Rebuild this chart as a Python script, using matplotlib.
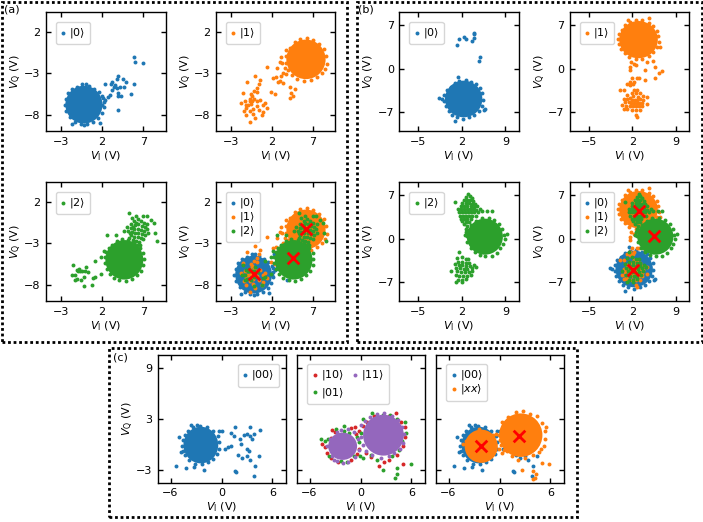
import matplotlib
matplotlib.use("Agg")
import matplotlib.pyplot as plt
from matplotlib.patches import Ellipse, Rectangle

BLUE, ORANGE, GREEN, RED, PURPLE = "#1f77b4", "#ff7f0e", "#2ca02c", "#d62728", "#9467bd"

# Dense cloud cores: (centre I, centre Q, radius I, radius Q)
a0_core = [(-0.2, -6.8, 2.25, 2.3)]
a1_core = [(6.2, -1.3, 2.4, 2.4)]
a2_core = [(4.7, -5.0, 2.3, 2.4)]
b0_core = [(2.3, -4.9, 3.0, 2.95)]
b1_core = [(3.0, 4.65, 3.1, 3.0)]
b2_core = [(5.7, 0.3, 2.9, 2.9)]
c00_core = [(-2.43, -0.06, 2.05, 2.15)]
c11_core = [(-2.1, -0.2, 1.7, 1.6), (2.7, 1.1, 2.4, 2.4)]
cxx_core = [(-2.15, -0.2, 1.95, 1.95), (2.5, 1.1, 2.55, 2.55)]

# Individually readable points
a0_pts = [(5.9,-1.0),(6.0,-1.6),(7.0,-1.7),(3.9,-3.3),(3.8,-3.7),(3.2,-4.0),(4.5,-3.7),(4.9,-4.1),(2.3,-4.3),(3.1,-4.3),
          (3.6,-4.4),(5.9,-4.3),(3.4,-4.7),(3.8,-4.8),(4.2,-4.7),(4.7,-4.7),(3.2,-5.0),(3.9,-5.4),(4.3,-5.7),(5.5,-5.5),
          (3.0,-5.6),(3.9,-5.8),(2.7,-5.9),(2.4,-6.2),(3.9,-7.5),(2.2,-6.5),(2.0,-6.8),(-1.7,-9.2),(-0.2,-9.3),(1.7,-9.0),
          (2.15,-6.0),(2.2,-7.1),(1.95,-7.8),(1.5,-8.4),(0.9,-8.9),(0.2,-9.2),(-0.6,-9.15),(-1.3,-8.95),(-1.9,-8.35),(-2.35,-7.6),
          (-2.55,-6.8),(-2.4,-6.1),(-2.1,-5.4),(-1.6,-4.95),(-1.0,-4.65),(-0.4,-4.3),(0.0,-4.35),(0.4,-4.55),(1.05,-4.85),(1.6,-5.3),(2.0,-5.7)]
a1_pts = [(3.7,-0.2),(3.2,-1.0),(3.0,-1.6),(3.3,-1.7),(1.4,-2.2),(2.7,-2.4),(3.6,-2.3),(3.4,-2.9),(3.7,-3.1),(3.2,-3.3),
          (2.2,-3.6),(2.5,-3.5),(3.0,-3.9),(3.4,-4.2),(2.8,-4.1),(0.0,-3.3),(0.6,-3.8),(-1.0,-4.0),(0.4,-4.3),(0.2,-4.8),
          (-0.2,-5.2),(0.2,-5.3),(-1.5,-5.4),(-0.4,-5.8),(-0.7,-6.1),(-0.2,-6.1),(-1.3,-6.3),(-0.7,-6.4),(-1.7,-6.6),(-1.1,-6.8),
          (-0.5,-6.7),(0.2,-6.4),(0.6,-6.2),(1.2,-6.6),(1.4,-7.2),(0.2,-7.0),(-1.1,-7.2),(-0.7,-7.6),(0.8,-8.0),(0.0,-8.4),
          (-0.6,-8.9),(-1.1,-8.0),(1.9,-5.3),(2.4,-5.5),(4.2,-4.7),(4.8,-4.9),(4.4,-5.4),(4.2,-6.0),(4.6,-5.8),(-0.4,-6.3),
          (-0.9,-6.9),(-0.3,-7.3),(0.5,-7.4),(1.0,-6.9),(-0.5,-5.5),(0.9,-7.7),(-1.4,-7.6),(-0.3,-7.9),
          (8.75,-1.9),(8.7,-0.9),(8.35,-0.1),(7.8,0.6),(7.1,1.05),(6.3,1.3),(5.5,1.2),(4.8,0.75),(4.25,0.1),(3.8,-0.9),
          (3.75,-1.8),(4.05,-2.6),(4.5,-3.2),(5.1,-3.65),(5.9,-3.95),(6.8,-3.85),(7.5,-3.5),(8.1,-2.95),(8.5,-2.5)]
a2_pts = [(5.3,0.7),(6.1,0.3),(7.0,0.3),(7.4,0.3),(7.9,-0.2),(8.3,-0.5),(8.4,-1.8),(8.7,-2.7),(7.5,-0.7),(5.6,0.05),
          (5.9,-0.3),(6.3,-0.1),(6.7,-0.3),(7.1,-0.5),(5.5,-0.7),(6.0,-0.8),(6.4,-0.7),(6.8,-0.9),(7.2,-1.0),(5.0,-1.0),
          (5.5,-1.1),(5.9,-1.2),(6.3,-1.2),(6.7,-1.4),(7.1,-1.5),(7.4,-1.3),(7.6,-1.7),(4.7,-1.5),(5.2,-1.5),(5.6,-1.6),
          (6.0,-1.7),(6.4,-1.7),(6.8,-1.9),(7.2,-2.0),(5.5,-2.0),(5.9,-2.2),(6.3,-2.2),(6.7,-2.4),(7.0,-2.5),(5.3,-2.4),
          (5.7,-2.6),(6.1,-2.7),(6.5,-2.8),(5.5,-2.9),(5.9,-3.0),(6.2,-3.2),(6.6,-3.2),(5.7,-1.0),(6.1,-0.5),(5.4,-1.8),
          (-1.5,-5.6),(-1.1,-6.2),(-0.9,-6.3),(-1.3,-6.8),(-1.6,-6.9),(-0.7,-6.4),(0.0,-5.9),(-0.1,-6.3),(0.3,-6.5),(-0.2,-7.1),
          (-0.5,-7.4),(-1.0,-7.3),(-1.3,-7.5),(-0.2,-8.2),(0.8,-8.1),(0.9,-7.2),(1.2,-7.1),(1.9,-6.7),(1.2,-5.1),(1.9,-4.6),
          (2.6,-2.0),(3.7,-2.0),(2.2,-3.9),(-0.8,-6.1),(-0.4,-6.4),
          (2.35,-4.7),(2.3,-5.4),(2.55,-6.1),(2.9,-6.7),(3.4,-7.2),(4.1,-7.5),(4.9,-7.55),(5.6,-7.3),(6.2,-6.9),(6.7,-6.3),
          (7.0,-5.6),(7.1,-4.9),(7.0,-4.2),(6.6,-3.6),(3.2,-3.2),(3.8,-2.7),(4.4,-2.5),(2.8,-3.6),(2.5,-4.1),(5.2,-2.6)]
b0_pts = [(4.0,5.8),(3.9,5.5),(3.6,4.4),(4.0,4.9),(2.3,5.0),(2.7,4.8),(1.6,4.7),(1.3,3.8),(4.9,1.8),(4.8,1.2),
          (-1.6,-4.8),(-1.2,-4.9),(0.9,-8.5),(5.7,-6.5),(5.5,-6.6),(1.4,-1.4),
          (-0.8,-4.3),(-0.85,-5.2),(-0.6,-6.1),(-0.1,-6.8),(0.5,-7.4),(1.3,-7.85),(2.2,-8.05),(3.2,-7.85),(4.0,-7.5),(4.7,-6.8),
          (5.2,-6.0),(5.4,-5.0),(5.3,-4.0),(4.9,-3.2),(4.3,-2.5),(3.5,-2.1),(2.6,-1.85),(1.6,-2.0),(0.9,-2.3),(0.2,-2.9),(-0.4,-3.5)]
b1_pts = [(4.6,8.2),(1.3,7.8),(6.4,3.5),(6.2,5.2),(6.3,4.3),(6.0,3.4),(5.4,2.7),(4.6,2.0),(3.6,1.55),(2.6,1.55),
          (1.5,1.9),(0.8,2.5),(0.2,3.2),(-0.2,3.9),(-0.3,4.8),(-0.1,5.6),(0.3,6.2),(0.8,7.0),(1.7,7.5),(2.6,7.8),
          (3.6,7.8),(4.6,7.4),(5.4,6.8),(5.9,6.0),
          (1.8,1.1),(2.2,0.8),(1.6,0.3),(1.7,-0.2),(2.6,0.5),(4.0,-0.2),(4.4,1.0),(5.3,1.2),(5.7,0.3),(6.8,-0.4),(6.3,-0.7),
          (5.6,-1.5),(4.0,-1.8),(3.1,-1.6),(2.7,-1.6),(2.0,-1.6),(2.3,-2.1),(1.7,-2.2),(2.1,-2.5),(1.2,-2.5),(1.7,-2.7),
          (0.0,-3.4),(0.7,-3.4),(2.2,-3.5),(2.7,-3.4),(1.9,-3.9),(2.6,-4.0),(3.2,-4.0),(1.2,-4.3),(2.1,-4.4),(2.9,-4.5),
          (3.7,-4.4),(4.4,-4.6),(0.6,-4.9),(1.1,-4.9),(1.6,-4.8),(2.0,-5.0),(2.4,-5.0),(2.8,-5.0),(3.2,-4.9),(3.7,-5.0),
          (0.9,-5.4),(1.4,-5.4),(1.8,-5.5),(2.3,-5.5),(2.7,-5.5),(3.1,-5.5),(3.6,-5.5),(4.4,-5.7),(0.4,-5.9),(1.0,-6.0),
          (1.6,-6.0),(2.1,-6.0),(2.6,-6.1),(3.1,-6.0),(3.5,-6.1),(1.2,-6.5),(1.9,-6.6),(2.6,-6.6),(0.7,-6.5),(3.2,-6.6),(2.6,-7.4),(2.8,-7.8)]
b2_pts = [(3.0,7.2),(3.3,6.9),(2.7,6.7),(3.6,6.6),(0.9,5.9),(2.4,6.2),(2.9,6.2),(3.3,6.2),(3.8,6.0),(2.0,5.8),
          (2.6,5.7),(3.1,5.7),(3.6,5.6),(4.1,5.6),(1.9,5.2),(2.4,5.3),(2.9,5.2),(3.4,5.2),(3.9,5.1),(4.4,5.2),
          (1.4,4.7),(1.9,4.7),(2.3,4.8),(2.8,4.7),(3.3,4.7),(3.8,4.7),(4.3,4.6),(5.0,4.7),(1.5,4.2),(2.0,4.2),
          (2.5,4.3),(3.0,4.2),(3.5,4.2),(4.0,4.2),(4.6,4.2),(5.3,4.4),(6.1,4.5),(6.8,4.5),(1.7,3.7),(2.2,3.7),
          (2.7,3.7),(3.2,3.7),(3.7,3.7),(4.2,3.6),(1.9,3.2),(2.4,3.2),(2.9,3.2),(3.4,3.1),(2.1,2.8),(2.7,2.7),
          (3.2,2.6),(2.4,2.3),(2.9,2.0),(2.7,1.5),(2.6,1.0),(2.5,0.5),
          (1.5,-2.2),(2.0,-2.9),(1.2,-3.1),(2.6,-3.3),(3.0,-3.3),(1.4,-3.7),(2.1,-3.7),(2.7,-3.9),(3.2,-3.9),(0.9,-4.1),
          (1.5,-4.2),(2.1,-4.3),(2.7,-4.4),(3.3,-4.4),(3.9,-4.3),(1.0,-4.7),(1.7,-4.8),(2.3,-4.9),(2.9,-4.9),(3.6,-4.8),
          (4.2,-4.5),(0.3,-5.2),(1.3,-5.3),(1.9,-5.4),(2.5,-5.4),(3.1,-5.4),(3.7,-5.2),(1.0,-5.9),(1.6,-6.0),(2.2,-6.0),
          (2.8,-6.0),(3.4,-5.9),(1.4,-6.6),(2.1,-6.6),(2.7,-6.5),(1.1,-7.0),(2.1,-7.0),
          (8.75,0.6),(8.9,0.0),(9.2,0.7),(8.6,-0.8),(8.2,-1.6),(7.6,-2.3),(6.8,-2.8),(5.8,-2.8),(4.9,-2.7),(4.1,-2.2),
          (3.4,-1.5),(2.9,-0.6),(2.8,0.4),(3.0,1.3),(3.5,2.2),(4.3,2.9),(5.2,3.3),(6.3,3.3),(7.2,3.0),(8.0,2.3),(8.5,1.5)]
c00_pts = [(1.6,2.1),(1.1,1.3),(1.5,1.0),(2.2,0.7),(2.6,1.1),(3.0,1.2),(3.4,2.0),(3.3,1.0),(3.8,1.2),(4.5,1.7),
           (3.6,0.7),(2.3,0.1),(1.1,-0.2),(0.8,-0.3),(0.4,-0.5),(3.0,-0.5),(3.2,-0.8),(1.9,-1.2),(2.4,-1.6),(3.0,-1.4),
           (3.3,-1.8),(4.4,-1.4),(4.0,-2.5),(1.7,-3.2),(1.6,-3.1),(3.8,-3.7),
           (-3.6,2.3),(-2.9,2.3),(-5.0,0.9),(-5.3,-2.5),(-4.2,-2.8),(-3.2,-2.6),(-2.1,-3.0),(-0.35,1.6),(0.1,1.6),(-4.8,-0.9),
           (-4.6,-0.2),(-4.55,0.5),(-4.3,1.1),(-3.9,1.6),(-3.3,2.05),(-2.5,2.2),(-1.7,2.1),(-1.0,1.6),(-0.45,1.0),(-0.25,0.3),
           (-0.25,-0.5),(-0.55,-1.1),(-1.0,-1.7),(-1.6,-2.1),(-2.3,-2.3),(-3.1,-2.25),(-3.8,-1.8),(-4.3,-1.2),(-4.55,-0.7)]
c10_pts = [(-4.5,0.1),(-4.2,-0.3),(-3.9,-1.0),(-3.5,-1.6),(-3.0,-1.1),(-3.3,1.7),(-3.0,1.5),(-1.1,1.9),(-0.6,2.1),(-0.2,1.6),
           (-0.5,1.2),(-0.2,-0.5),(-0.4,-1.1),(-1.1,-1.8),(0.6,-1.0),(1.2,-1.5),(2.2,-2.5),(2.8,-2.0),(3.3,-1.8),(4.3,-1.2),
           (5.0,-0.2),(5.2,0.9),(5.2,2.0),(4.8,2.7),(4.2,3.7),(3.3,3.3),(1.6,3.3),(0.8,2.7),(0.3,2.2),(5.0,-2.3),(-2.6,-2.0),(-3.5,0.8)]
c01_pts = [(-4.6,0.6),(-4.2,0.4),(-3.8,0.6),(-3.4,-0.7),(-3.7,-1.3),(-2.9,1.8),(-2.0,1.6),(-1.9,2.2),(-1.3,1.4),(-0.4,0.9),
           (-0.2,0.3),(-0.1,-1.3),(-0.8,-1.3),(-1.6,-2.0),(-2.3,-1.9),(0.3,-1.6),(1.2,-1.2),(2.0,-1.8),(3.7,-1.4),(4.5,-0.6),
           (4.9,0.4),(5.3,1.4),(5.2,2.6),(4.3,3.0),(3.5,3.5),(2.6,3.5),(1.4,3.7),(0.3,3.0),(0.1,1.4),(5.9,-2.3),(2.6,-3.0),
           (4.3,-2.7),(4.3,-3.4),(4.1,-3.9),(-3.2,0.3),(-2.4,-1.3)]
c11_pts = [(-3.9,-0.2),(-3.6,0.7),(-2.8,1.5),(-2.3,1.7),(-1.5,1.8),(-0.8,1.5),(-0.3,0.7),(-0.2,-0.6),(-0.7,-1.5),(-1.5,-2.0),
           (-2.1,-2.2),(-2.8,-1.9),(-3.4,-1.4),(-3.1,-1.8),(0.0,2.3),(0.5,2.8),(1.1,3.2),(1.9,3.6),(2.8,3.7),(3.7,3.4),
           (4.4,2.9),(4.9,2.1),(5.1,1.2),(5.0,0.2),(4.6,-0.5),(4.0,-1.0),(3.3,-1.4),(2.4,-1.6),(1.4,-1.2),(0.7,-0.7),(0.3,-0.1),(0.0,0.9)]
cxx_pts = [(2.6,-3.0),(3.9,-3.1),(4.35,-3.4),(4.2,-3.9),(4.0,-4.0),(5.0,-2.2),(5.85,-2.25),
           (-0.1,1.1),(-0.4,1.2),(-0.8,1.1),(0.0,0.5),(0.2,-0.1),(0.5,-0.6),(-0.1,-0.5),(0.3,-1.0),
           (2.0,3.8),(2.8,3.9),(3.6,3.6),(4.4,3.3),(5.0,2.5),(5.4,1.6),(5.4,0.6),(5.2,-0.2),(4.6,-0.9),(3.9,-1.2),
           (3.0,-1.6),(2.2,-1.8),(1.5,-1.3),(0.9,-0.8),(1.0,3.2),(0.3,2.6),(5.5,2.0),(4.9,-0.5),(-3.9,0.4),(-4.3,0.1),(-2.4,1.8)]

# Means marked by the red crosses
a_means = ([-0.2, 4.65, 6.2], [-6.7, -4.8, -1.3])
b_means = ([2.1, 3.1, 5.5], [-5.0, 4.4, 0.4])
c_means = ([-2.15, 2.35], [-0.2, 1.05])

a_ticks = ([-3, 2, 7], [2, -3, -8])
b_ticks = ([-5, 2, 9], [7, 0, -7])
c_ticks = ([-6, 0, 6], [9, 3, -3])
a_lims = ((-4.8, 9.75), (-10.0, 4.45))
b_lims = ((-8.0, 11.1), (-10.05, 9.1))
c_lims = ((-7.53, 7.53), (-4.45, 10.5))

S_A0 = (BLUE, r"$|0\rangle$", a0_core, a0_pts)
S_A1 = (ORANGE, r"$|1\rangle$", a1_core, a1_pts)
S_A2 = (GREEN, r"$|2\rangle$", a2_core, a2_pts)
S_B0 = (BLUE, r"$|0\rangle$", b0_core, b0_pts)
S_B1 = (ORANGE, r"$|1\rangle$", b1_core, b1_pts)
S_B2 = (GREEN, r"$|2\rangle$", b2_core, b2_pts)
S_C00 = (BLUE, r"$|00\rangle$", c00_core, c00_pts)
S_C10 = (RED, r"$|10\rangle$", [], c10_pts)
S_C01 = (GREEN, r"$|01\rangle$", [], c01_pts)
S_C11 = (PURPLE, r"$|11\rangle$", c11_core, c11_pts)
S_CXX = (ORANGE, r"$|xx\rangle$", cxx_core, cxx_pts)

W, H = 703, 522
plt.rcParams.update({"font.family": "DejaVu Sans", "font.size": 8, "mathtext.fontset": "dejavusans"})
fig = plt.figure(figsize=(W / 100, H / 100), dpi=100)


def panel(box, series, ticks, lims, means=None, ylabel=True, leg=None):
    l, t, r, b = box
    ax = fig.add_axes([l / W, 1 - b / H, (r - l) / W, (b - t) / H])
    for k, (col, lab, cores, pts) in enumerate(series):
        for cx, cy, rx, ry in cores:
            ax.add_patch(Ellipse((cx, cy), 2 * rx, 2 * ry, fc=col, ec="none", zorder=2 + k))
        ax.scatter([p[0] for p in pts], [p[1] for p in pts], s=8, c=col, lw=0, label=lab, zorder=2 + k)
    if means:
        ax.scatter(means[0], means[1], marker="x", s=70, c="red", lw=2, zorder=20)
    ax.set_xlim(*lims[0])
    ax.set_ylim(*lims[1])
    ax.set_xticks(ticks[0])
    ax.set_yticks(ticks[1])
    ax.tick_params(direction="in", top=True, right=True, labelsize=8, length=3.5, width=1, pad=4)
    for s in ax.spines.values():
        s.set_linewidth(1.0)
    ax.set_xlabel(r"$V_\mathrm{I}$ (V)", fontsize=8, labelpad=2)
    if ylabel:
        ax.set_ylabel(r"$V_\mathrm{Q}$ (V)", fontsize=8, labelpad=0)
    else:
        ax.set_yticklabels([])
    opts = dict(loc="upper left", fontsize=8, handlelength=0.6, handletextpad=0.25, borderpad=0.4, labelspacing=0.0,
                borderaxespad=0, bbox_to_anchor=(0.08, 0.92))
    opts.update(leg or {})
    ax.legend(**opts)
    return ax


A0, A1 = (46, 12, 166, 131), (216, 12, 335, 131)
A2, A3 = (46, 182, 166, 301), (216, 182, 335, 301)
B0, B1 = (399.5, 12, 518.5, 131), (570, 12, 689, 131)
B2, B3 = (399.5, 182, 518.5, 301), (570, 182, 689, 301)
C0, C1, C2 = (157.5, 355, 285.5, 482.5), (296.5, 355, 424.5, 482.5), (435.5, 355, 563.5, 482.5)

panel(A0, [S_A0], a_ticks, a_lims)
panel(A1, [S_A1], a_ticks, a_lims)
panel(A2, [S_A2], a_ticks, a_lims)
panel(A3, [S_A0, S_A1, S_A2], a_ticks, a_lims, a_means)
panel(B0, [S_B0], b_ticks, b_lims)
panel(B1, [S_B1], b_ticks, b_lims)
panel(B2, [S_B2], b_ticks, b_lims)
panel(B3, [S_B0, S_B1, S_B2], b_ticks, b_lims, b_means)
panel(C0, [S_C00], c_ticks, c_lims, leg=dict(loc="upper right", bbox_to_anchor=(0.95, 0.93)))
panel(C1, [S_C10, S_C01, S_C11], c_ticks, c_lims, ylabel=False,
      leg=dict(ncol=2, bbox_to_anchor=(0.08, 0.93), columnspacing=0.7, labelspacing=0.3))
panel(C2, [S_C00, S_CXX], c_ticks, c_lims, c_means, ylabel=False, leg=dict(bbox_to_anchor=(0.08, 0.93)))

for x0, y0, x1, y1 in [(1.5, 1.5, 347, 342), (356.5, 1.5, 701.5, 342), (109, 348, 577, 517)]:
    fig.add_artist(Rectangle((x0 / W, 1 - y1 / H), (x1 - x0) / W, (y1 - y0) / H, transform=fig.transFigure,
                             fill=False, ec="black", lw=2, ls=(0, (1, 1))))
for x, y, s in [(4, 9, "(a)"), (358, 9, "(b)"), (113, 358, "(c)")]:
    fig.text(x / W, 1 - y / H, s, fontsize=8, va="center", ha="left")

fig.savefig("out.png", dpi=100)
